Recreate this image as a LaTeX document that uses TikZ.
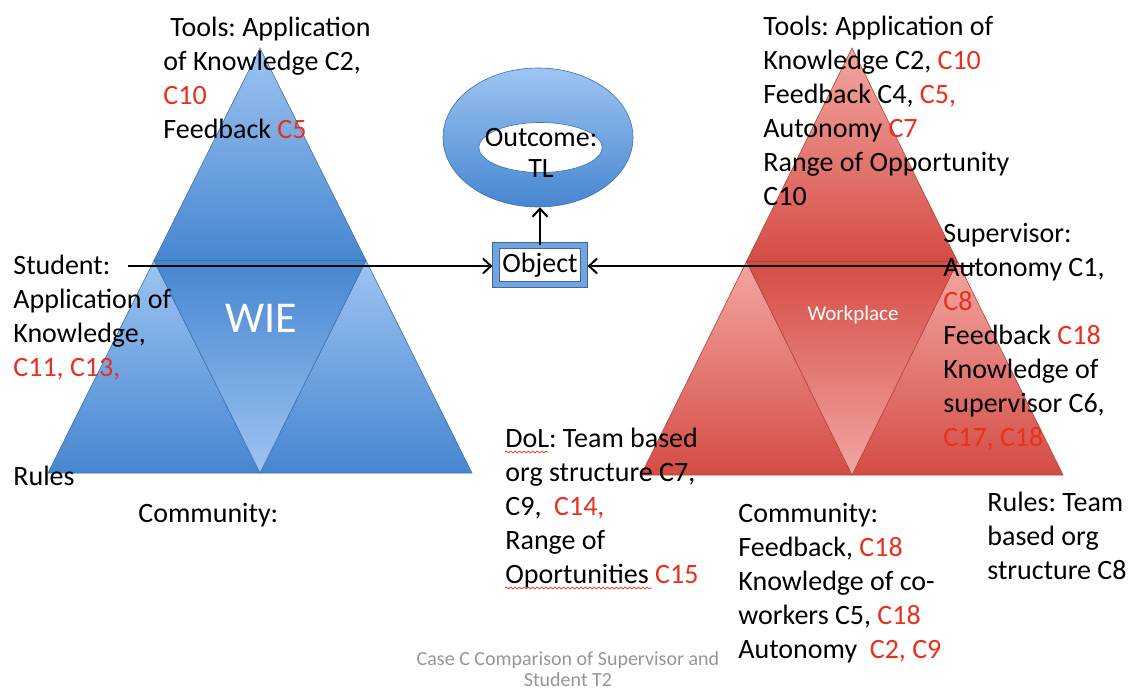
\documentclass[tikz,border=0pt]{standalone}
\usepackage{fontspec}
\setmainfont{Carlito}
\usetikzlibrary{shapes.geometric,decorations.pathmorphing,arrows.meta}
\frenchspacing

\definecolor{cnumred}{RGB}{232,48,28}
\definecolor{bluelight}{RGB}{158,196,242}
\definecolor{bluedark}{RGB}{70,134,208}
\definecolor{redlight}{RGB}{243,166,162}
\definecolor{reddark}{RGB}{212,76,68}
\definecolor{capgray}{RGB}{150,150,150}
\newcommand{\cnum}[1]{\textcolor{cnumred}{#1}}

\tikzset{
  lbl/.style={anchor=north west, align=left, inner sep=0pt, font=\fontsize{14}{17}\selectfont},
  bluepiece/.style={draw=bluedark!85!black, line width=0.3pt},
  redpiece/.style={draw=reddark!85!black, line width=0.3pt},
  link/.style={-{Straight Barb[length=4pt, width=7.5pt]}, line width=1pt},
  squig/.style={decorate, decoration={snake, amplitude=0.5pt, segment length=2.2pt}, cnumred, line width=0.35pt}
}

\begin{document}
\begin{tikzpicture}[x=0.5pt, y=0.5pt]
  \fill[white] (0,0) rectangle (1133,-689);
  \useasboundingbox (0,0) rectangle (1133,-689);

  % WIE triangle
  \shadedraw[bluepiece, top color=bluelight, bottom color=bluedark] (260,-48) -- (154,-260.5) -- (366,-260.5) -- cycle;
  \shadedraw[bluepiece, top color=bluelight, bottom color=bluedark] (154,-260.5) -- (48,-473) -- (260,-473) -- cycle;
  \shadedraw[bluepiece, top color=bluelight, bottom color=bluedark] (366,-260.5) -- (260,-473) -- (472,-473) -- cycle;
  \shadedraw[bluepiece, top color=bluedark, bottom color=bluelight] (154,-260.5) -- (366,-260.5) -- (260,-473) -- cycle;
  \node (wie) [font=\fontsize{22}{26}\selectfont, text=white] at (261,-318) {WIE};

  % Workplace triangle
  \shadedraw[redpiece, top color=redlight, bottom color=reddark] (852,-48) -- (746.5,-261.5) -- (957.5,-261.5) -- cycle;
  \shadedraw[redpiece, top color=redlight, bottom color=reddark] (746.5,-261.5) -- (641,-475) -- (852,-475) -- cycle;
  \shadedraw[redpiece, top color=redlight, bottom color=reddark] (957.5,-261.5) -- (852,-475) -- (1063,-475) -- cycle;
  \shadedraw[redpiece, top color=reddark, bottom color=redlight] (746.5,-261.5) -- (957.5,-261.5) -- (852,-475) -- cycle;
  \node (workplace) [anchor=base, font=\fontsize{10.5}{12}\selectfont, text=white] at (853,-321) {Workplace};

  % outcome ring and object
  \node (ring) [ellipse, minimum width=95pt, minimum height=69.5pt, inner sep=0pt, draw=bluedark!85!black, line width=0.3pt,
                top color=bluelight, bottom color=bluedark] at (538,-137.5) {};
  \node (hole) [ellipse, minimum width=61.5pt, minimum height=25pt, inner sep=0pt, fill=white, draw=bluedark!85!black, line width=0.3pt] at (540.5,-147.5) {};
  \node (outcome) [anchor=north, align=center, inner sep=0pt, font=\fontsize{14}{15.5}\selectfont] at (541,-128) {Outcome:\\TL};
  \node (object) [draw=bluedark!80!black, double=bluedark!75!white, double distance=2.8pt, line width=0.4pt, fill=white,
                  minimum width=44pt, minimum height=19.4pt, inner sep=0pt, font=\fontsize{14}{17}\selectfont] at (540,-265) {Object};

  % texts
  \node (toolsL) [lbl] at (163,-17) {\hspace*{3.5pt}Tools: Application\\of Knowledge C2,\\\cnum{C10}\\Feedback \cnum{C5}};
  \node (student) [lbl] at (13,-255) {Student:\\Application of\\Knowledge,\\\cnum{C11, C13,}};
  \node (rulesL) [lbl] at (13,-466) {Rules};
  \node (commL) [lbl] at (138,-503) {Community:};
  \node (toolsR) [lbl] at (763,-16) {Tools: Application of\\Knowledge C2, \cnum{C10}\\Feedback C4, \cnum{C5,}\\Autonomy \cnum{C7}\\Range of Opportunity\\C10};
  \node (supervisor) [lbl] at (943,-223) {Supervisor:\\Autonomy C1,\\\cnum{C8}\\Feedback \cnum{C18}\\Knowledge of\\supervisor C6,\\\cnum{C17, C18}};
  \node (dol) [lbl] at (505,-428) {DoL: Team based\\org structure C7,\\C9, \ \cnum{C14,}\\Range of\\Oportunities \cnum{C15}};
  \node (commR) [lbl] at (738,-503) {Community:\\Feedback, \cnum{C18}\\Knowledge of co-\\workers C5, \cnum{C18}\\Autonomy \ \cnum{C2, C9}};
  \node (rulesR) [lbl] at (987,-492) {Rules: Team\\based org\\structure C8};
  \node (caption) [anchor=north, align=center, inner sep=0pt, text=capgray, font=\fontsize{10}{10.5}\selectfont] at (568,-651)
    {Case C Comparison of Supervisor and\\Student T2};

  \draw[squig] ([yshift=-12pt]dol.north west) -- ++(43,0);
  \draw[squig] ([yshift=-80pt]dol.north west) -- ++(147,0);

  % arrows
  \coordinate (stuend) at (128,-266);
  \coordinate (supend) at (975,-266);
  \draw[link, shorten >=1.6pt] (stuend) -- (object.west |- stuend);
  \draw[link, shorten >=1.6pt] (supend) -- (object.east |- supend);
  \draw[link] (object.north) -- (object.north |- ring.south);
\end{tikzpicture}
\end{document}
